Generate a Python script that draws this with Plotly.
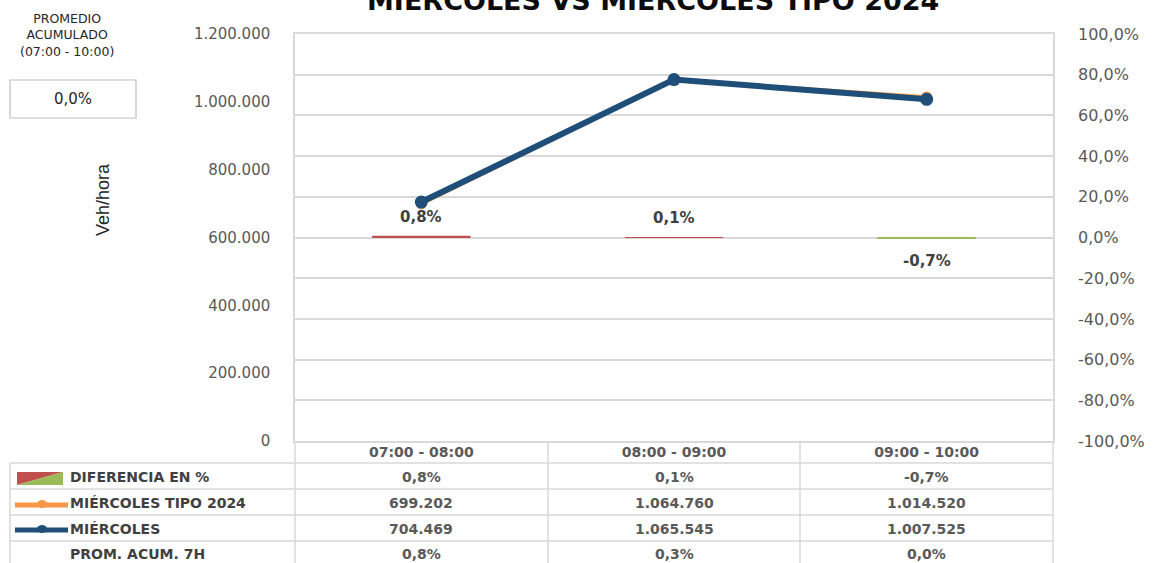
import plotly.graph_objects as go

# ---------------- data ----------------
categories = ["07:00 - 08:00", "08:00 - 09:00", "09:00 - 10:00"]
tipo_2024 = [699202, 1064760, 1014520]
miercoles = [704469, 1065545, 1007525]
diferencia = [0.008, 0.001, -0.007]
prom_acum = [0.008, 0.003, 0.000]
prom_total = 0.0
left_ticks = [0, 200000, 400000, 600000, 800000, 1000000, 1200000]
right_ticks = [-1.0, -0.8, -0.6, -0.4, -0.2, 0.0, 0.2, 0.4, 0.6, 0.8, 1.0]
row_labels = ["DIFERENCIA EN %", "MIÉRCOLES TIPO 2024", "MIÉRCOLES", "PROM. ACUM. 7H"]
title_text = "MIÉRCOLES VS MIÉRCOLES TIPO 2024"


def fmt_int(v):
    return f"{v:,}".replace(",", ".")


def fmt_pct(v):
    return f"{v * 100:.1f}".replace(".", ",") + "%"


# ---------------- layout geometry (pixels) ----------------
W, H = 1173, 563
L, R, T, B = 295, 1053, 34, 441
PW, PH = R - L, B - T


def px(x):
    return (x - L) / PW


def py(y):
    return (B - y) / PH


FONT = "DejaVu Sans"
GRID = "#D9D9D9"
TXT = "#595959"
RED = "#C0504D"
GREEN = "#9BBB59"
ORANGE = "#F79646"
BLUE = "#1F4E79"

fig = go.Figure()

fig.add_trace(go.Bar(
    x=categories, y=diferencia, yaxis="y2", width=0.39,
    marker=dict(color=[RED if v >= 0 else GREEN for v in diferencia], line=dict(width=0)),
    name="DIFERENCIA EN %", hoverinfo="skip",
))
fig.add_trace(go.Scatter(
    x=categories, y=tipo_2024, mode="lines+markers", name="MIÉRCOLES TIPO 2024",
    line=dict(color=ORANGE, width=3.5), marker=dict(color=ORANGE, size=11),
))
fig.add_trace(go.Scatter(
    x=categories, y=miercoles, mode="lines+markers", name="MIÉRCOLES",
    line=dict(color=BLUE, width=6), marker=dict(color=BLUE, size=13),
))

annotations = []
shapes = []


def note(x, y, text, font, xref="paper", yref="paper", xanchor="center", yanchor="middle", **kw):
    d = dict(x=x, y=y, xref=xref, yref=yref, text=text, showarrow=False, font=font,
             xanchor=xanchor, yanchor=yanchor)
    d.update(kw)
    annotations.append(d)


# bar data labels
for c, v in zip(categories, diferencia):
    note(c, v, fmt_pct(v), dict(family=FONT, size=15, color="#404040", weight="bold"),
         xref="x", yref="y2", yshift=19 if v >= 0 else -22)

# title (cut at top as in reference)
note(px(653), py(18), title_text, dict(family=FONT, size=27, color="#0D0D0D", weight="bold"),
     yanchor="bottom")

# y axis title
note(px(103), py(200), "Veh/hora",
     dict(family="Liberation Sans Narrow, Liberation Sans", size=18, color="#262626"),
     textangle=-90)

# promedio acumulado block
note(px(67), py(35), "PROMEDIO<br>ACUMULADO<br>(07:00 - 10:00)",
     dict(family=FONT, size=12.5, color="#262626"))
shapes.append(dict(type="rect", xref="paper", yref="paper",
                   x0=px(10), x1=px(136), y0=py(80), y1=py(118),
                   line=dict(color="#BFBFBF", width=1.2), fillcolor="white"))
note(px(73), py(99), fmt_pct(prom_total), dict(family=FONT, size=15, color="#262626"))

# data table rows
row_centers = [477, 503, 529, 554]
row_values = [
    [fmt_pct(v) for v in diferencia],
    [fmt_int(v) for v in tipo_2024],
    [fmt_int(v) for v in miercoles],
    [fmt_pct(v) for v in prom_acum],
]
for yc, label, vals in zip(row_centers, row_labels, row_values):
    note(px(68), py(yc), label, dict(family=FONT, size=14, color="#404040", weight="bold"),
         xanchor="left")
    for c, t in zip(categories, vals):
        note(c, py(yc), t, dict(family=FONT, size=14, color=TXT, weight="bold"), xref="x")

# table grid lines
for yl in [463, 489, 515, 541]:
    shapes.append(dict(type="line", xref="paper", yref="paper", x0=px(10), x1=px(R),
                       y0=py(yl), y1=py(yl), line=dict(color=GRID, width=1.5)))
shapes.append(dict(type="line", xref="paper", yref="paper", x0=px(10), x1=px(10),
                   y0=py(463), y1=py(563), line=dict(color=GRID, width=1.5)))
for xl in [L, 548, 800, R]:
    shapes.append(dict(type="line", xref="paper", yref="paper", x0=px(xl), x1=px(xl),
                       y0=py(441), y1=py(563), line=dict(color=GRID, width=1.5)))

# legend keys in table
shapes.append(dict(type="path", xref="paper", yref="paper",
                   path=f"M {px(17)},{py(472)} L {px(63)},{py(472)} L {px(17)},{py(485)} Z",
                   fillcolor=RED, line=dict(width=0)))
shapes.append(dict(type="path", xref="paper", yref="paper",
                   path=f"M {px(63)},{py(472)} L {px(63)},{py(485)} L {px(17)},{py(485)} Z",
                   fillcolor=GREEN, line=dict(width=0)))
for yk, col in [(505, ORANGE), (530, BLUE)]:
    shapes.append(dict(type="line", xref="paper", yref="paper", x0=px(15), x1=px(68),
                       y0=py(yk), y1=py(yk), line=dict(color=col, width=5)))
    shapes.append(dict(type="circle", xref="paper", yref="paper", x0=px(37), x1=px(47),
                       y0=py(yk - 5), y1=py(yk + 3), fillcolor=col, line=dict(width=0)))

fig.update_layout(
    width=W, height=H,
    margin=dict(l=L, r=W - R, t=T, b=H - B),
    paper_bgcolor="white", plot_bgcolor="white",
    showlegend=False, barmode="overlay",
    annotations=annotations, shapes=shapes,
    font=dict(family=FONT, color=TXT),
    xaxis=dict(
        type="category", range=[-0.5, 2.5], showgrid=False, zeroline=False,
        showline=True, linecolor=GRID, linewidth=1.5, mirror=True, ticks="",
        tickfont=dict(family=FONT, size=14, color=TXT, weight="bold"), ticklabelstandoff=-3,
    ),
    yaxis=dict(
        range=[0, 1200000], tickvals=left_ticks, ticktext=[fmt_int(v) for v in left_ticks],
        showgrid=False, zeroline=False, showline=True, linecolor=GRID, linewidth=1.5, mirror=True,
        ticks="", ticklabelstandoff=20, tickfont=dict(family=FONT, size=15, color=TXT),
    ),
    yaxis2=dict(
        overlaying="y", side="right", range=[-1, 1], tickvals=right_ticks,
        ticktext=[fmt_pct(v) for v in right_ticks], showgrid=True, gridcolor=GRID, gridwidth=1.5,
        zeroline=False, ticks="", ticklabelstandoff=24,
        tickfont=dict(family=FONT, size=16, color=TXT),
    ),
)

fig.write_html("out.html", config={"displayModeBar": False},
               post_script="document.body.style.margin='0';document.body.style.overflow='hidden';")
